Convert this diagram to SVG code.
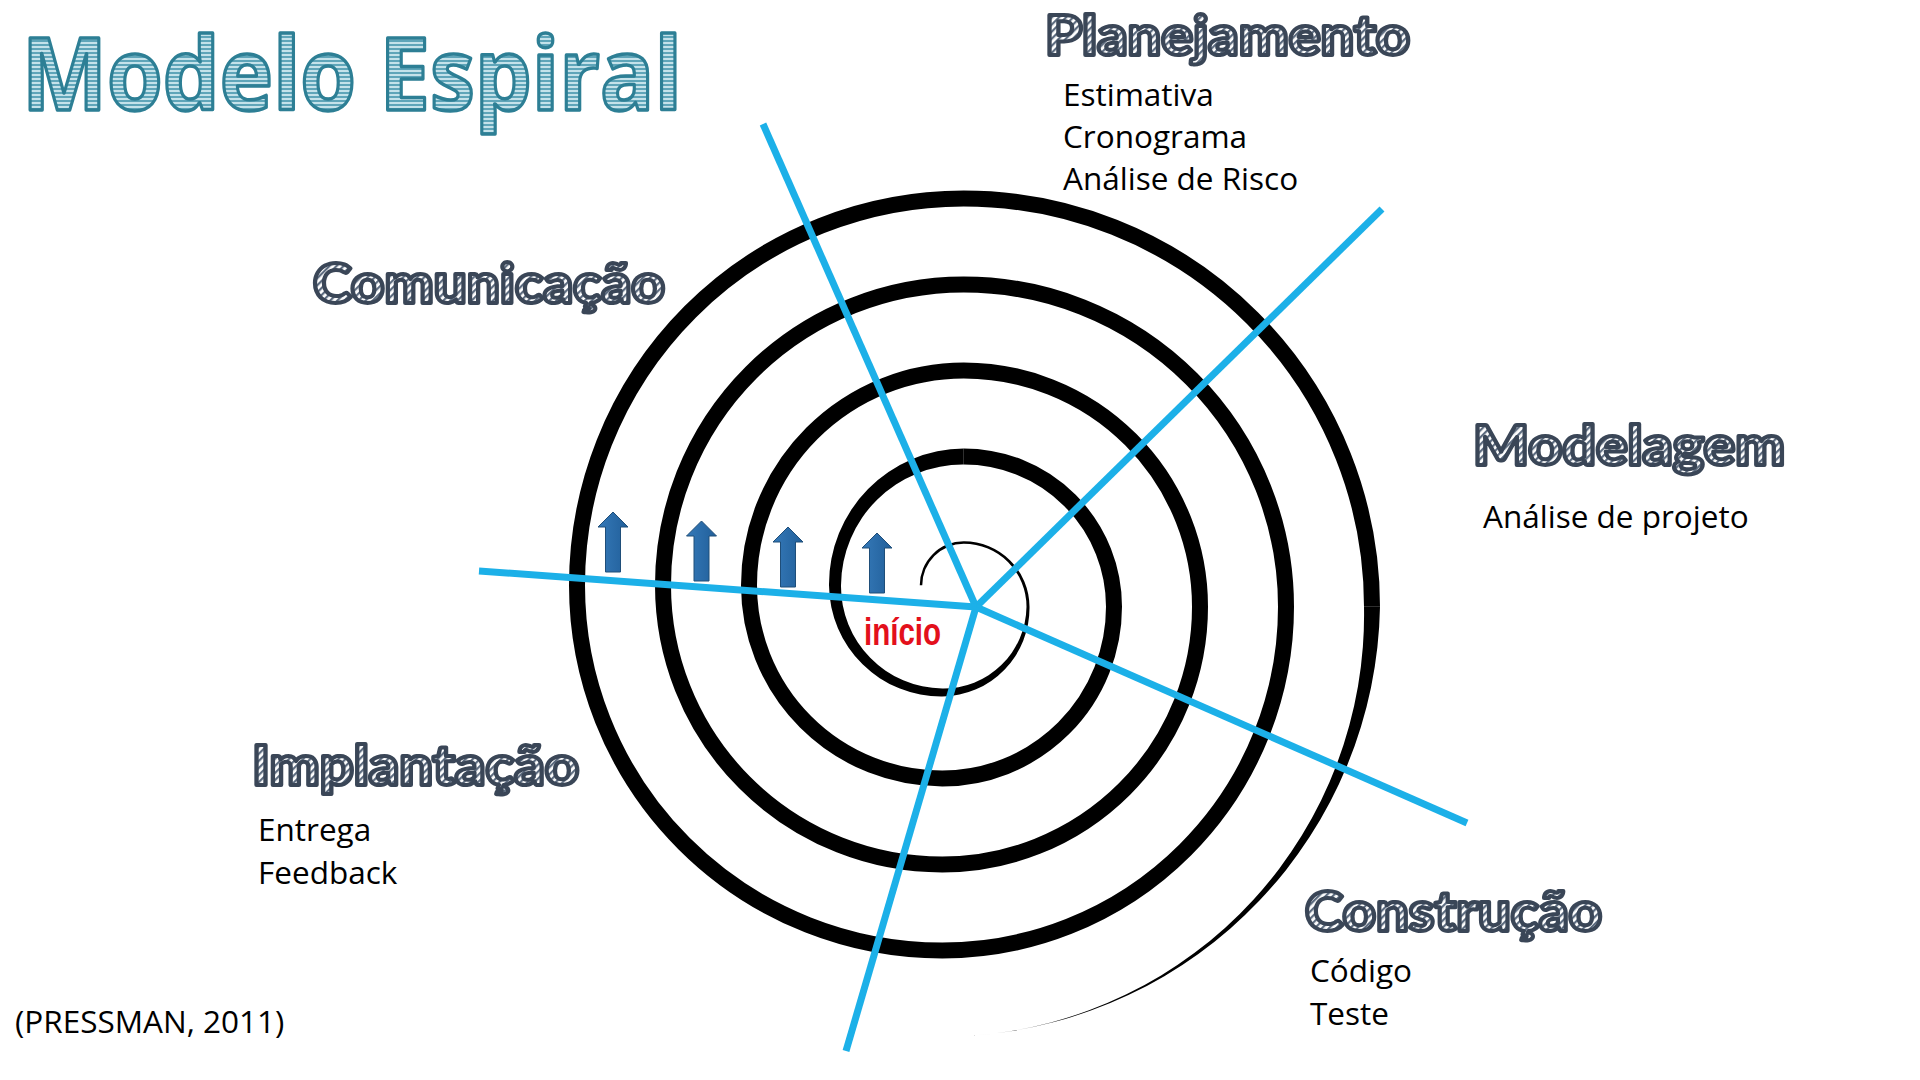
<svg xmlns="http://www.w3.org/2000/svg" width="1920" height="1080" viewBox="0 0 1920 1080">
<defs>
  <pattern id="hatch" patternUnits="userSpaceOnUse" width="5" height="5" patternTransform="rotate(45)">
    <rect width="5" height="5" fill="#ffffff"/>
    <rect width="2.2" height="5" fill="#5d6c80"/>
  </pattern>
  <pattern id="hstripe" patternUnits="userSpaceOnUse" width="10" height="4">
    <rect width="10" height="4" fill="#c4e2ea"/>
    <rect width="10" height="2" fill="#5fa5b9"/>
  </pattern>
  <linearGradient id="arrowFill" x1="0" y1="0" x2="1" y2="0">
    <stop offset="0" stop-color="#3579b8"/>
    <stop offset="1" stop-color="#215f9a"/>
  </linearGradient>
  <path id="arrow" d="M0,0 L15,15 L7.5,15 L7.5,60 L-7.5,60 L-7.5,15 L-15,15 Z"/>
</defs>
<style>
  .title { font-family: "Open Sans", "Noto Sans", sans-serif; font-weight: 700; font-size: 100px; fill: url(#hstripe); stroke: #2d7f95; stroke-width: 3.5; stroke-linejoin: round; }
  .head { font-family: Lato, "Noto Sans", sans-serif; font-weight: 900; font-size: 55px; fill: url(#hatch); stroke: #3a4657; stroke-width: 4; stroke-linejoin: round; }
  .body { font-family: "Open Sans", "Noto Sans", sans-serif; font-size: 31.5px; fill: #000000; }
  .inicio { font-family: "Liberation Sans", Arial, sans-serif; font-weight: 700; font-size: 38px; fill: #e3101b; }
  .axis { stroke: #1cb0e8; stroke-width: 7; stroke-linecap: butt; fill: none; }
  .ring { stroke: #000000; stroke-width: 16; fill: none; stroke-linecap: butt; }
  .arr { fill: url(#arrowFill); stroke: #1f4e79; stroke-width: 1; }
</style>
<rect width="1920" height="1080" fill="#ffffff"/>

<g id="title">
  <text class="title" x="22" y="110" textLength="660" lengthAdjust="spacingAndGlyphs">Modelo Espiral</text>
</g>

<g id="spiral">
  <path fill="#000000" d="M 919.75 585.25 A 44 44 0 0 1 963.75 541.25 A 65.6 65.6 0 0 1 1029.5 606.75 A 88.5 88.5 0 0 1 942.25 696.5 A 112.25 112.25 0 0 1 829 585.25 A 135.75 135.75 0 0 1 963.75 448.5 L 963.75 464.5 A 121.75 121.75 0 0 0 841 585.25 A 102.25 102.25 0 0 0 942.25 688.5 A 83 83 0 0 0 1026.5 606.75 A 62.9 62.9 0 0 0 963.75 543.75 A 41.5 41.5 0 0 0 922.25 585.25 Z"/>
  <path class="ring" d="M 963.75 456.5 A 150.25 150.25 0 0 1 1114 606.75 A 171.75 171.75 0 0 1 942.25 778.5 A 193.25 193.25 0 0 1 749 585.25 A 214.75 214.75 0 0 1 963.75 370.5 A 236.25 236.25 0 0 1 1200 606.75 A 257.75 257.75 0 0 1 942.25 864.5 A 279.25 279.25 0 0 1 663 585.25 A 300.75 300.75 0 0 1 963.75 284.5 A 322.25 322.25 0 0 1 1286 606.75 A 343.75 343.75 0 0 1 942.25 950.5 A 365.25 365.25 0 0 1 577 585.25 A 386.75 386.75 0 0 1 963.75 198.5 A 408.25 408.25 0 0 1 1372 606.75"/>
  <path fill="#000000" d="M 1380 606.75 A 437.75 437.75 0 0 1 972 1035.6 A 421.75 421.75 0 0 0 1364 606.75 Z"/>
</g>

<g id="connectors">
  <line class="axis" x1="976" y1="607" x2="763" y2="124"/>
  <line class="axis" x1="976" y1="607" x2="1382" y2="209"/>
  <line class="axis" x1="976" y1="607" x2="479" y2="571"/>
  <line class="axis" x1="976" y1="607" x2="1467" y2="823"/>
  <line class="axis" x1="976" y1="607" x2="846" y2="1051"/>
</g>

<g id="arrows">
  <use href="#arrow" class="arr" transform="translate(613,512)"/>
  <use href="#arrow" class="arr" transform="translate(701.5,521)"/>
  <use href="#arrow" class="arr" transform="translate(788,527)"/>
  <use href="#arrow" class="arr" transform="translate(877,533)"/>
</g>

<g id="inicio">
  <text class="inicio" x="864" y="645" textLength="77" lengthAdjust="spacingAndGlyphs">início</text>
</g>

<g id="planejamento">
  <text class="head" x="1045" y="55" textLength="365" lengthAdjust="spacingAndGlyphs">Planejamento</text>
  <text class="body" x="1063" y="106">Estimativa</text>
  <text class="body" x="1063" y="148">Cronograma</text>
  <text class="body" x="1063" y="190">Análise de Risco</text>
</g>

<g id="comunicacao">
  <text class="head" x="313" y="303" textLength="352" lengthAdjust="spacingAndGlyphs">Comunicação</text>
</g>

<g id="modelagem">
  <text class="head" x="1473" y="465" textLength="312" lengthAdjust="spacingAndGlyphs">Modelagem</text>
  <text class="body" x="1483" y="528">Análise de projeto</text>
</g>

<g id="implantacao">
  <text class="head" x="252" y="785" textLength="327" lengthAdjust="spacingAndGlyphs">Implantação</text>
  <text class="body" x="258" y="841">Entrega</text>
  <text class="body" x="258" y="884">Feedback</text>
</g>

<g id="construcao">
  <text class="head" x="1305" y="931" textLength="297" lengthAdjust="spacingAndGlyphs">Construção</text>
  <text class="body" x="1310" y="982">Código</text>
  <text class="body" x="1310" y="1025">Teste</text>
</g>

<g id="citation">
  <text class="body" x="15" y="1033">(PRESSMAN, 2011)</text>
</g>
</svg>
